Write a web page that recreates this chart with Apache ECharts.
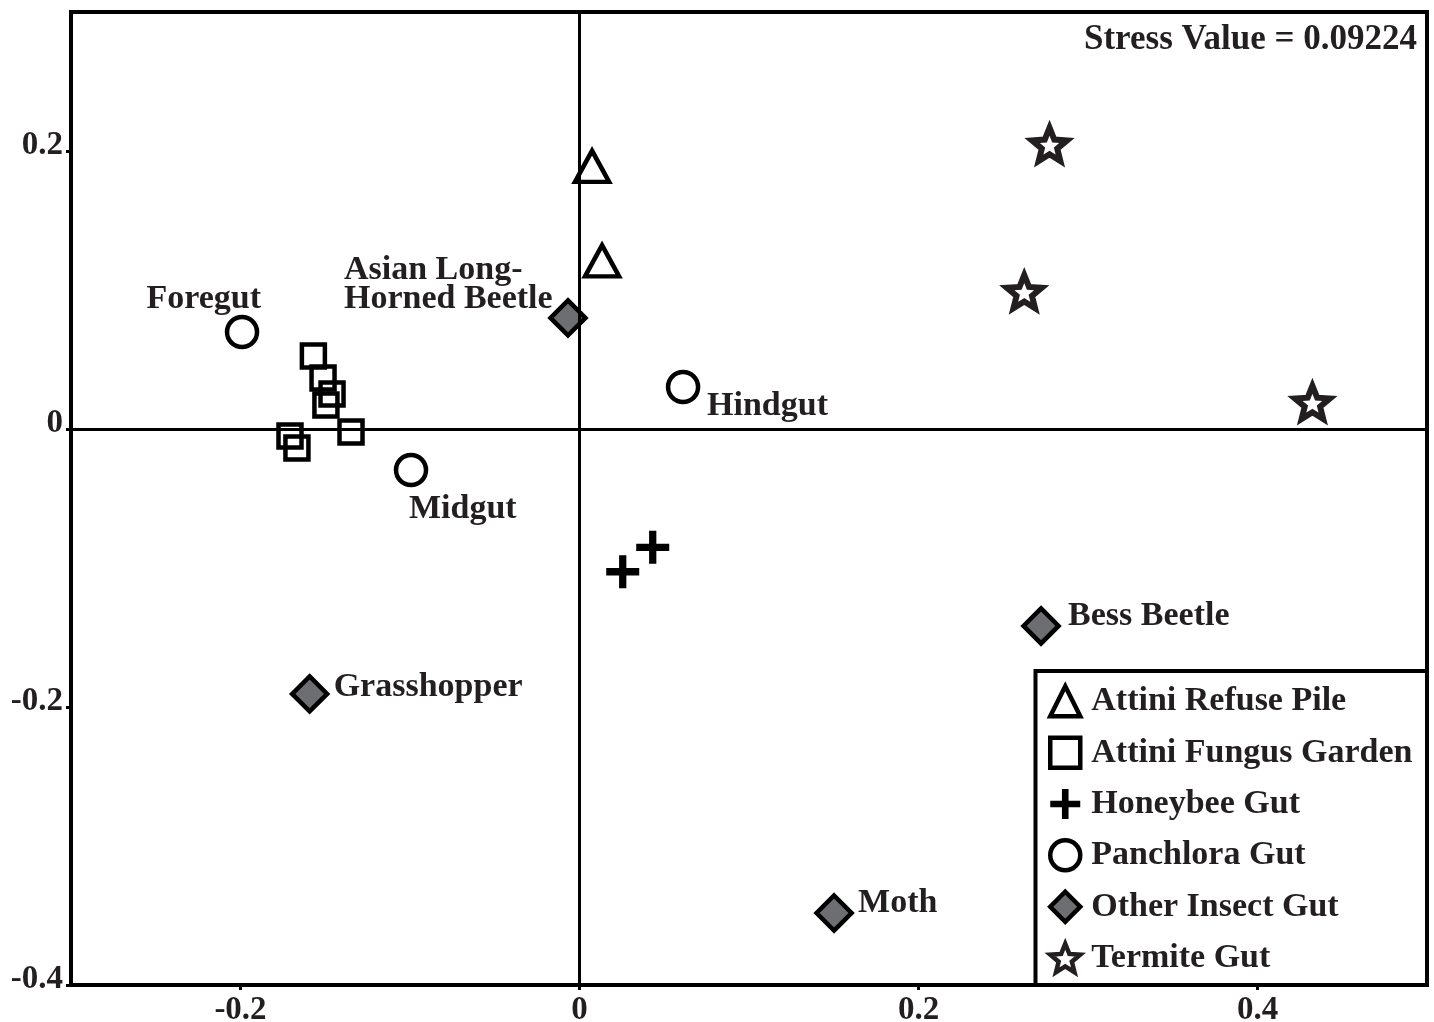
<!DOCTYPE html>
<html>
<head>
<meta charset="utf-8">
<script src="https://cdn.jsdelivr.net/npm/echarts@6/dist/echarts.min.js"></script>
<style>html,body{margin:0;padding:0;background:#fff}#chart{width:1434px;height:1022px}</style>
</head>
<body>
<div id="chart"></div>
<script>
// ---- data ----
const seriesNames = ['Attini Refuse Pile', 'Attini Fungus Garden', 'Honeybee Gut', 'Panchlora Gut', 'Other Insect Gut', 'Termite Gut'];
const refusePile = [[0.0074, 0.189], [0.0133, 0.121]];
const fungusGarden = [[-0.157, 0.0525], [-0.1513, 0.0367], [-0.146, 0.0252], [-0.1496, 0.0173], [-0.1348, -0.0022], [-0.1708, -0.005], [-0.1667, -0.0137]];
const honeybeeGut = [[0.0255, -0.1027], [0.0432, -0.0851]];
const panchloraGut = [[-0.1991, 0.0698], [0.0611, 0.0302], [-0.0994, -0.0295]];
const panchloraLabels = ['Foregut', 'Hindgut', 'Midgut'];
const otherInsectGut = [[-0.0068, 0.0799], [-0.1592, -0.1906], [0.2723, -0.1417], [0.1502, -0.3482]];
const otherInsectLabels = ['Asian Long-\nHorned Beetle', 'Grasshopper', 'Bess Beetle', 'Moth'];
const termiteGut = [[0.2773, 0.2048], [0.2624, 0.0988], [0.4324, 0.0191]];
const xTicks = [-0.2, 0, 0.2, 0.4];
const yTicks = [-0.4, -0.2, 0, 0.2];
const stressText = 'Stress Value = 0.09224';

// ---- styles ----
const FONT = '"Liberation Serif", "Times New Roman", serif';
const INK = '#231f20';
const labelLayout = {
  'Foregut': { align: 'right', offset: [19, -33] },
  'Hindgut': { align: 'left', offset: [24, 19] },
  'Midgut': { align: 'left', offset: [-2, 39] },
  'Asian Long-\nHorned Beetle': { align: 'left', offset: [-224, -33] },
  'Grasshopper': { align: 'left', offset: [24, -7] },
  'Bess Beetle': { align: 'left', offset: [27, -10] },
  'Moth': { align: 'left', offset: [24, -10] }
};
const PLUS = 'path://M39,0H61V39H100V61H61V100H39V61H0V39H39Z';
const STAR = 'path://M50,0L62.93,32.2L97.55,34.55L70.92,56.8L79.39,90.45L50,72L20.61,90.45L29.08,56.8L2.45,34.55L37.07,32.2Z';
const hollow = 'rgba(255,255,255,0)';

const styles = [
  { symbol: 'triangle', symbolSize: [34, 31], itemStyle: { color: hollow, borderColor: '#000', borderWidth: 4.5, opacity: 1 } },
  { symbol: 'rect', symbolSize: 23, itemStyle: { color: hollow, borderColor: '#000', borderWidth: 4.5, opacity: 1 } },
  { symbol: PLUS, symbolSize: 33, itemStyle: { color: '#000', borderWidth: 0, opacity: 1 } },
  { symbol: 'circle', symbolSize: 30, itemStyle: { color: hollow, borderColor: '#000', borderWidth: 4.5, opacity: 1 } },
  { symbol: 'diamond', symbolSize: 35, itemStyle: { color: '#6d6e71', borderColor: '#000', borderWidth: 4.5, opacity: 1 } },
  { symbol: STAR, symbolSize: 35, itemStyle: { color: '#fff', borderColor: INK, borderWidth: 6, borderJoin: 'miter', opacity: 1 } }
];

function withLabels(points, names) {
  return points.map((p, i) => {
    const n = names[i];
    const l = labelLayout[n];
    return {
      value: p,
      label: {
        show: true, formatter: n, position: 'inside', align: l.align, verticalAlign: 'middle',
        offset: l.offset, color: INK, fontFamily: FONT, fontWeight: 'bold', fontSize: 34, lineHeight: 29
      }
    };
  });
}

const seriesData = [refusePile, fungusGarden, honeybeeGut, withLabels(panchloraGut, panchloraLabels), withLabels(otherInsectGut, otherInsectLabels), termiteGut];

const series = seriesNames.map((name, i) => {
  const s = Object.assign({ name: name, type: 'scatter', data: seriesData[i], symbolKeepAspect: i === 5 }, styles[i]);
  if (i === 0) {
    s.markLine = {
      silent: true, symbol: 'none', label: { show: false },
      lineStyle: { color: '#000', width: 3, type: 'solid' },
      data: [{ xAxis: 0 }, { yAxis: 0 }]
    };
  }
  return s;
});

const legendData = seriesNames.map((name, i) => ({
  name: name,
  icon: styles[i].symbol,
  itemStyle: Object.assign({}, styles[i].itemStyle, { borderWidth: Math.min(styles[i].itemStyle.borderWidth, 4.5) })
}));

const chart = echarts.init(document.getElementById('chart'), null, { renderer: 'canvas' });
chart.setOption({
  animation: false,
  backgroundColor: '#fff',
  grid: {
    left: 71, right: 7, top: 12, bottom: 37, show: true, borderColor: '#000', borderWidth: 4, backgroundColor: 'transparent',
    containLabel: false, outerBoundsMode: 'none'
  },
  title: {
    text: stressText, right: 12, top: 17,
    textStyle: { fontFamily: FONT, fontWeight: 'bold', fontSize: 35, color: INK }
  },
  xAxis: {
    type: 'value', min: -0.3, max: 0.5,
    axisLine: { show: false, onZero: false },
    splitLine: { show: false },
    axisTick: { show: true, customValues: xTicks, length: 5, lineStyle: { color: '#000', width: 3 } },
    axisLabel: { customValues: xTicks, margin: 9, color: INK, fontFamily: FONT, fontWeight: 'bold', fontSize: 33 }
  },
  yAxis: {
    type: 'value', min: -0.4, max: 0.3,
    axisLine: { show: false, onZero: false },
    splitLine: { show: false },
    axisTick: { show: true, customValues: yTicks, length: 5, lineStyle: { color: '#000', width: 3 } },
    axisLabel: { customValues: yTicks, margin: 8, verticalAlign: 'bottom', lineHeight: 12, color: INK, fontFamily: FONT, fontWeight: 'bold', fontSize: 33 }
  },
  graphic: [{
    type: 'rect', z: 50,
    shape: { x: 1035.5, y: 671, width: 391.5, height: 314 },
    style: { fill: '#fff', stroke: '#000', lineWidth: 4 }
  }],
  legend: {
    z: 60, orient: 'vertical', left: 1043, top: 679,
    itemWidth: 30, itemHeight: 30, itemGap: 17,
    textStyle: { fontFamily: FONT, fontWeight: 'bold', fontSize: 34, color: INK, padding: [0, 0, 0, 6] },
    data: legendData
  },
  series: series
});
</script>
</body>
</html>
